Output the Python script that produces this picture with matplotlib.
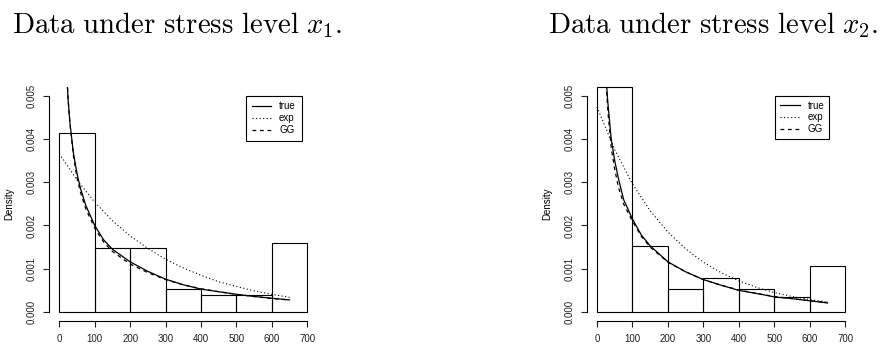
import matplotlib
matplotlib.use("Agg")
import numpy as np
from matplotlib import pyplot as plt

plt.rcParams['mathtext.fontset'] = 'cm'
plt.rcParams['font.family'] = ['Liberation Sans', 'DejaVu Sans']

breaks = [0, 100, 200, 300, 400, 500, 600, 700]
hist1 = [0.00413, 0.00147, 0.00147, 0.00053, 0.00040, 0.00040, 0.00160]
hist2 = [0.00520, 0.00153, 0.00053, 0.00079, 0.00053, 0.00034, 0.00106]

# curve values
xc = [20, 25, 30, 40, 50, 60, 75, 100, 125, 150, 200, 250, 300, 350, 400, 450, 500, 550, 600, 650]
true1 = [0.0056, 0.00489, 0.00437, 0.00366, 0.0032, 0.00285, 0.00246, 0.0020, 0.00167, 0.00145,
         0.00116, 0.00094, 0.00076, 0.00063, 0.00053, 0.00047, 0.00041, 0.00036, 0.00032, 0.00028]
gg1 = [0.0057, 0.0049, 0.00435, 0.0036, 0.0031, 0.00276, 0.00238, 0.00194, 0.00162, 0.0014,
       0.00111, 0.00091, 0.00075, 0.00063, 0.00054, 0.00047, 0.00041, 0.00036, 0.00031, 0.00028]
true2 = [0.0064, 0.0055, 0.0049, 0.0040, 0.0035, 0.0031, 0.0026, 0.00215, 0.00178, 0.00153,
         0.00116, 0.00093, 0.00075, 0.00062, 0.00050, 0.00043, 0.00035, 0.00031, 0.00026, 0.00021]
gg2 = [0.0063, 0.0054, 0.0047, 0.0038, 0.0033, 0.0029, 0.0025, 0.0021, 0.00175, 0.0015,
       0.00115, 0.00093, 0.00075, 0.00062, 0.00051, 0.00043, 0.00036, 0.00031, 0.00026, 0.00022]

xe = [0, 50, 100, 150, 200, 250, 300, 350, 400, 450, 500, 550, 600, 650]
exp1 = [0.00366, 0.00305, 0.00254, 0.00211, 0.00176, 0.00147, 0.00122, 0.00102, 0.00085,
        0.00070, 0.00059, 0.00049, 0.00041, 0.00034]
exp2 = [0.00474, 0.00375, 0.00296, 0.00234, 0.00185, 0.00146, 0.00115, 0.00091, 0.00072,
        0.00057, 0.00045, 0.00036, 0.00029, 0.00023]

titles = [r"$\mathrm{Data\ under\ stress\ level\ }x_1.$", r"$\mathrm{Data\ under\ stress\ level\ }x_2.$"]

fig = plt.figure(figsize=(8.82, 3.44), dpi=100)


def panel(rect, heights, tr, ex, gg, leg_anchor, bpad):
    ax = fig.add_axes(rect)
    ax.bar(breaks[:-1], heights, width=100, align='edge', fill=False,
           edgecolor='black', linewidth=0.8, clip_on=False)
    ax.plot(xc, tr, color='black', lw=0.9, label='true')
    ax.plot(xe, ex, color='black', lw=0.8, ls=(0, (1, 2.2)), label='exp')
    ax.plot(xc, gg, color='black', lw=0.9, ls=(0, (3, 3)), label='GG')
    ax.set_xlim(-28, 728)
    ax.set_ylim(-0.0002, 0.0052)
    for s in ['top', 'right']:
        ax.spines[s].set_visible(False)
    ax.spines['left'].set_bounds(0, 0.005)
    ax.spines['bottom'].set_bounds(0, 700)
    for s in ['left', 'bottom']:
        ax.spines[s].set_linewidth(0.8)
    ax.set_xticks(range(0, 701, 100))
    ax.set_yticks([0, 0.001, 0.002, 0.003, 0.004, 0.005])
    ax.set_yticklabels(['0.000', '0.001', '0.002', '0.003', '0.004', '0.005'],
                       rotation=90, va='center')
    ax.tick_params(axis='both', length=4, width=0.8, labelsize=7, colors='#222222')
    ax.tick_params(axis='x', pad=5.5)
    ax.tick_params(axis='y', pad=5)
    ax.set_ylabel('Density', fontsize=7)
    ax.yaxis.set_label_coords(-0.13, 0.5)
    leg = ax.legend(loc='upper right', bbox_to_anchor=leg_anchor, fontsize=7,
                    frameon=True, fancybox=False, edgecolor='black', framealpha=1,
                    handlelength=2.0, handletextpad=0.8, labelspacing=0.2,
                    borderpad=bpad, borderaxespad=0)
    leg.get_frame().set_linewidth(0.8)
    return ax


panel([0.0560, 0.0677, 0.3036, 0.6794], hist1, true1, exp1, gg1, (0.942, 0.963), 0.6)
panel([0.6656, 0.0677, 0.3040, 0.6794], hist2, true2, exp2, gg2, (0.903, 0.963), 0.5)

fig.text(12.5 / 882, 1 - 33 / 344, titles[0], fontsize=20.8, va='baseline', ha='left')
fig.text(548 / 882, 1 - 33 / 344, titles[1], fontsize=20.8, va='baseline', ha='left')

fig.savefig('out.png', dpi=100)
